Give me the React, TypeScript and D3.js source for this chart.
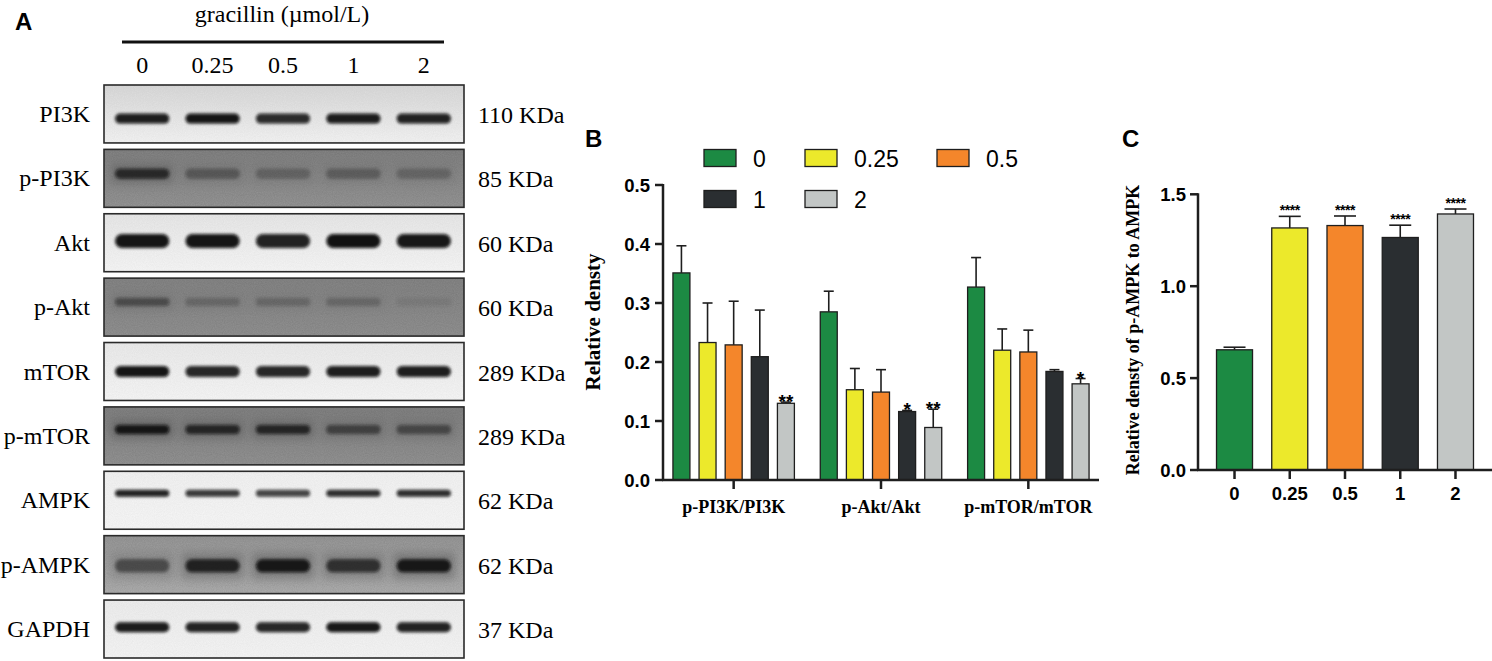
import * as d3 from "d3";
import React, { useEffect } from "react";

// gracillin doses (µmol/L) and their bar colours
const doses = ["0", "0.25", "0.5", "1", "2"];
const doseColors = ["#1c8a43", "#ece92b", "#f4862b", "#2a2e31", "#c2c6c5"];

// Panel A: western blot rows
const blotProteins = ["PI3K", "p-PI3K", "Akt", "p-Akt", "mTOR", "p-mTOR", "AMPK", "p-AMPK", "GAPDH"];
const blotWeights = ["110 KDa", "85 KDa", "60 KDa", "60 KDa", "289 KDa", "289 KDa", "62 KDa", "62 KDa", "37 KDa"];
const bandIntensity = [
  [0.92, 0.96, 0.86, 0.93, 0.9],
  [0.72, 0.32, 0.24, 0.28, 0.22],
  [0.96, 0.96, 0.9, 0.98, 0.95],
  [0.42, 0.2, 0.2, 0.2, 0.07],
  [0.96, 0.88, 0.88, 0.92, 0.92],
  [0.9, 0.75, 0.75, 0.5, 0.45],
  [0.9, 0.8, 0.75, 0.85, 0.85],
  [0.5, 0.82, 0.9, 0.7, 0.9],
  [0.93, 0.9, 0.88, 0.95, 0.9],
];

// Panel B: ratios
const ratioGroups = ["p-PI3K/PI3K", "p-Akt/Akt", "p-mTOR/mTOR"];
const ratioMeans = [
  [0.351, 0.233, 0.229, 0.209, 0.13],
  [0.285, 0.153, 0.149, 0.116, 0.089],
  [0.327, 0.22, 0.217, 0.184, 0.163],
];
const ratioSem = [
  [0.046, 0.067, 0.074, 0.079, 0.002],
  [0.035, 0.036, 0.038, 0.002, 0.031],
  [0.05, 0.036, 0.037, 0.003, 0.009],
];
const ratioStars = [
  ["", "", "", "", "**"],
  ["", "", "", "*", "**"],
  ["", "", "", "", "*"],
];

// Panel C: p-AMPK / AMPK
const ampkMeans = [0.654, 1.317, 1.33, 1.265, 1.393];
const ampkSem = [0.014, 0.063, 0.052, 0.067, 0.027];
const ampkStars = ["", "****", "****", "****", "****"];

// look of each blot strip (background and band position)
const rowLook = [
  { bg: ["#d9d9d9", "#f3f3f3"], pos: 0.58, thick: 10, dark: false },
  { bg: ["#848484", "#979797"], pos: 0.42, thick: 10, dark: true },
  { bg: ["#e8e8e8", "#f6f6f6"], pos: 0.47, thick: 14, dark: false },
  { bg: ["#878787", "#939393"], pos: 0.41, thick: 8, dark: true },
  { bg: ["#ebebeb", "#f6f6f6"], pos: 0.5, thick: 11, dark: false },
  { bg: ["#838383", "#959595"], pos: 0.39, thick: 9, dark: true },
  { bg: ["#f2f2f2", "#f7f7f7"], pos: 0.38, thick: 7, dark: false },
  { bg: ["#9a9a9a", "#b0b0b0"], pos: 0.52, thick: 13, dark: true },
  { bg: ["#eeeeee", "#f5f5f5"], pos: 0.47, thick: 10, dark: false },
];

const SERIF = "'Liberation Serif', 'Times New Roman', serif";
const SANS = "'Liberation Sans', Arial, sans-serif";
const INK = "#1e1e1e";

const BlotPanel: React.FC = () => {
  const lane = d3.scaleBand<string>().domain(doses).range([107, 459]).paddingInner(0.23).paddingOuter(0.115);
  const row = d3.scaleBand<string>().domain(blotProteins).range([85, 658]).paddingInner(0.1);
  const h = row.bandwidth();

  return (
    <g>
      <defs>
        <filter id="bandBlur" x="-20%" y="-100%" width="140%" height="300%">
          <feGaussianBlur stdDeviation="1.5" />
        </filter>
        <filter id="haloBlur" x="-30%" y="-200%" width="160%" height="500%">
          <feGaussianBlur stdDeviation="4" />
        </filter>
        <filter id="grain" x="0" y="0" width="1" height="1">
          <feTurbulence type="fractalNoise" baseFrequency="0.9" numOctaves="2" seed="3" />
          <feColorMatrix values="0 0 0 0 0  0 0 0 0 0  0 0 0 0 0  0 0 0 0.12 0" />
        </filter>
        {blotProteins.map((p, i) => (
          <clipPath key={p} id={`clip${i}`}>
            <rect x={104} y={row(p)!} width={360} height={h} />
          </clipPath>
        ))}
        {rowLook.map((r, i) => (
          <linearGradient key={i} id={`bg${i}`} x1="0" y1="0" x2="0" y2="1">
            <stop offset="0" stopColor={r.bg[0]} />
            <stop offset="1" stopColor={r.bg[1]} />
          </linearGradient>
        ))}
      </defs>

      <text x={15} y={30} fontFamily={SANS} fontWeight="bold" fontSize={24}>A</text>
      <text x={282} y={22} textAnchor="middle" fontFamily={SERIF} fontSize={24}>gracillin (µmol/L)</text>
      <line x1={122} x2={444} y1={42} y2={42} stroke="#111" strokeWidth={3} />
      {doses.map((d) => (
        <text key={d} x={lane(d)! + lane.bandwidth() / 2} y={73} textAnchor="middle" fontFamily={SERIF} fontSize={24}>
          {d}
        </text>
      ))}

      {blotProteins.map((p, i) => {
        const y0 = row(p)!;
        const look = rowLook[i];
        return (
          <g key={p}>
            <g clipPath={`url(#clip${i})`}>
              <rect x={104} y={y0} width={360} height={h} fill={`url(#bg${i})`} />
              <rect x={104} y={y0} width={360} height={h} filter="url(#grain)" opacity={look.dark ? 1 : 0.4} />
              {doses.map((d, j) => {
                const a = bandIntensity[i][j];
                const cy = y0 + look.pos * h;
                return (
                  <g key={d}>
                    {look.dark && (
                      <rect
                        x={lane(d)! - 4}
                        y={cy - look.thick}
                        width={lane.bandwidth() + 8}
                        height={look.thick * 2}
                        fill="#333"
                        opacity={a * 0.35}
                        filter="url(#haloBlur)"
                      />
                    )}
                    <rect
                      x={lane(d)!}
                      y={cy - look.thick / 2}
                      width={lane.bandwidth()}
                      height={look.thick}
                      rx={look.thick / 2}
                      fill="#080808"
                      opacity={a}
                      filter="url(#bandBlur)"
                    />
                  </g>
                );
              })}
            </g>
            <rect x={104} y={y0} width={360} height={h} fill="none" stroke="#2a2a2a" strokeWidth={1.6} />
            <text x={90} y={y0 + h / 2 + 8} textAnchor="end" fontFamily={SERIF} fontSize={24}>{p}</text>
            <text x={478} y={y0 + h / 2 + 9} fontFamily={SERIF} fontSize={24}>{blotWeights[i]}</text>
          </g>
        );
      })}
    </g>
  );
};

const RatioPanel: React.FC = () => {
  const x0 = d3.scaleBand<string>().domain(ratioGroups).range([660, 1102]);
  const x1 = d3.scaleBand<string>().domain(doses).range([-65.3, 65.3]).paddingInner(0.35).paddingOuter(0.175);
  const y = d3.scaleLinear().domain([0, 0.5]).range([480, 185]);
  const ticks = y.ticks(5);
  const fmt = d3.format(".1f");
  const legendCols = [704, 805, 937];

  return (
    <g>
      <text x={585} y={147} fontFamily={SANS} fontWeight="bold" fontSize={24}>B</text>

      {doses.map((d, i) => {
        const lx = legendCols[i % 3];
        const ly = i < 3 ? 158 : 199;
        return (
          <g key={d}>
            <rect x={lx} y={ly - 8.5} width={32} height={17} fill={doseColors[i]} stroke={INK} strokeWidth={1.3} />
            <text x={lx + 49} y={ly + 8.5} fontFamily={SANS} fontSize={23}>{d}</text>
          </g>
        );
      })}

      {ratioGroups.map((g, gi) => {
        const cx = x0(g)! + x0.bandwidth() / 2;
        return (
          <g key={g}>
            {doses.map((d, i) => {
              const bx = cx + x1(d)!;
              const bw = x1.bandwidth();
              const m = ratioMeans[gi][i];
              const top = y(m + ratioSem[gi][i]);
              return (
                <g key={d}>
                  <line x1={bx + bw / 2} x2={bx + bw / 2} y1={y(m)} y2={top} stroke={INK} strokeWidth={1.6} />
                  <line x1={bx + bw / 2 - 5} x2={bx + bw / 2 + 5} y1={top} y2={top} stroke={INK} strokeWidth={1.6} />
                  <rect x={bx} y={y(m)} width={bw} height={y(0) - y(m)} fill={doseColors[i]} stroke={INK} strokeWidth={1.3} />
                  {ratioStars[gi][i] && (
                    <text x={bx + bw / 2} y={top + 6} textAnchor="middle" fontFamily={SANS} fontWeight="bold" fontSize={19}>
                      {ratioStars[gi][i]}
                    </text>
                  )}
                </g>
              );
            })}
            <line x1={cx} x2={cx} y1={480} y2={489} stroke={INK} strokeWidth={2.5} />
            <text x={cx} y={513} textAnchor="middle" fontFamily={SERIF} fontWeight="bold" fontSize={18}>{g}</text>
          </g>
        );
      })}

      <line x1={663} x2={663} y1={y(0.5) - 1} y2={481} stroke={INK} strokeWidth={2.5} />
      <line x1={662} x2={1099} y1={480} y2={480} stroke={INK} strokeWidth={2.5} />
      {ticks.map((t) => (
        <g key={t}>
          <line x1={655} x2={663} y1={y(t)} y2={y(t)} stroke={INK} strokeWidth={2.5} />
          <text x={650} y={y(t) + 6.5} textAnchor="end" fontFamily={SANS} fontWeight="bold" fontSize={18.5}>{fmt(t)}</text>
        </g>
      ))}
      <text transform="translate(600,322) rotate(-90)" textAnchor="middle" fontFamily={SERIF} fontWeight="bold" fontSize={21}>
        Relative densty
      </text>
    </g>
  );
};

const AmpkPanel: React.FC = () => {
  const x = d3.scaleBand<string>().domain(doses).range([1198, 1492]).paddingInner(0.348).paddingOuter(0.335);
  const y = d3.scaleLinear().domain([0, 1.5]).range([470, 194.3]);
  const ticks = [0, 0.5, 1, 1.5];
  const fmt = d3.format(".1f");

  return (
    <g>
      <text x={1122} y={147} fontFamily={SANS} fontWeight="bold" fontSize={24}>C</text>
      {doses.map((d, i) => {
        const bx = x(d)!;
        const bw = x.bandwidth();
        const m = ampkMeans[i];
        const top = y(m + ampkSem[i]);
        return (
          <g key={d}>
            <line x1={bx + bw / 2} x2={bx + bw / 2} y1={y(m)} y2={top} stroke={INK} strokeWidth={1.6} />
            <line x1={bx + bw / 2 - 11} x2={bx + bw / 2 + 11} y1={top} y2={top} stroke={INK} strokeWidth={1.6} />
            <rect x={bx} y={y(m)} width={bw} height={y(0) - y(m)} fill={doseColors[i]} stroke={INK} strokeWidth={1.3} />
            {ampkStars[i] && (
              <text x={bx + bw / 2} y={top - 1} textAnchor="middle" fontFamily={SANS} fontWeight="bold" fontSize={14} letterSpacing={-0.5}>
                {ampkStars[i]}
              </text>
            )}
            <line x1={bx + bw / 2} x2={bx + bw / 2} y1={470} y2={479} stroke={INK} strokeWidth={2.5} />
            <text x={bx + bw / 2} y={500} textAnchor="middle" fontFamily={SANS} fontWeight="bold" fontSize={18.5}>{d}</text>
          </g>
        );
      })}
      <line x1={1198} x2={1198} y1={y(1.5) - 1} y2={471} stroke={INK} strokeWidth={2.5} />
      <line x1={1197} x2={1492} y1={470} y2={470} stroke={INK} strokeWidth={2.5} />
      {ticks.map((t) => (
        <g key={t}>
          <line x1={1190} x2={1198} y1={y(t)} y2={y(t)} stroke={INK} strokeWidth={2.5} />
          <text x={1186} y={y(t) + 6.5} textAnchor="end" fontFamily={SANS} fontWeight="bold" fontSize={18.5}>{fmt(t)}</text>
        </g>
      ))}
      <text transform="translate(1139,330) rotate(-90)" textAnchor="middle" fontFamily={SERIF} fontWeight="bold" fontSize={18}>
        Relative densty of p-AMPK to AMPK
      </text>
    </g>
  );
};

export default function App() {
  useEffect(() => {
    document.body.style.margin = "0";
  }, []);

  return (
    <svg
      width={1492}
      height={661}
      viewBox="0 0 1492 661"
      style={{ display: "block", position: "absolute", left: 0, top: 0, background: "#fff" }}
    >
      <BlotPanel />
      <RatioPanel />
      <AmpkPanel />
    </svg>
  );
}
